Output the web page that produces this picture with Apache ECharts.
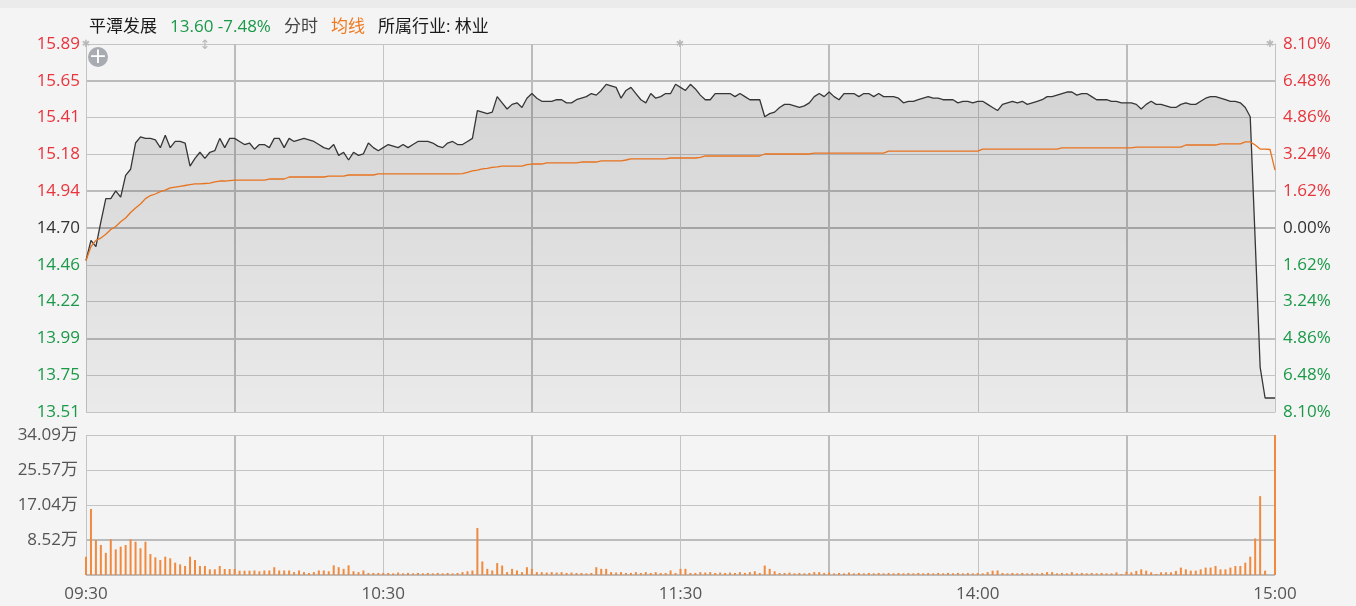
<!DOCTYPE html>
<html><head><meta charset="utf-8">
<script src="https://cdn.jsdelivr.net/npm/echarts@6/dist/echarts.min.js"></script>
<style>html,body{margin:0;padding:0;background:#f4f4f4;}#c{width:1356px;height:606px;}</style>
</head><body><div id="c"></div>
<script>
const preClose = 14.70;
const priceData = [
14.49,14.62,14.58,14.74,14.89,14.89,14.94,14.90,15.04,15.08,
15.25,15.29,15.28,15.28,15.27,15.22,15.30,15.22,15.26,15.26,
15.25,15.10,15.15,15.19,15.15,15.19,15.20,15.28,15.22,15.28,
15.28,15.26,15.24,15.25,15.21,15.24,15.24,15.22,15.28,15.28,
15.22,15.28,15.26,15.27,15.28,15.27,15.26,15.24,15.22,15.21,
15.24,15.17,15.19,15.14,15.19,15.17,15.18,15.25,15.22,15.20,
15.22,15.24,15.23,15.22,15.24,15.22,15.24,15.26,15.26,15.26,
15.25,15.23,15.22,15.25,15.26,15.24,15.24,15.26,15.28,15.46,
15.45,15.44,15.45,15.55,15.51,15.47,15.50,15.51,15.48,15.54,
15.57,15.54,15.52,15.52,15.52,15.53,15.53,15.51,15.51,15.53,
15.54,15.55,15.57,15.56,15.59,15.63,15.62,15.61,15.54,15.59,
15.61,15.57,15.53,15.51,15.57,15.54,15.55,15.57,15.57,15.63,
15.61,15.59,15.63,15.60,15.56,15.53,15.53,15.57,15.57,15.57,
15.57,15.55,15.57,15.55,15.53,15.53,15.53,15.42,15.44,15.45,
15.48,15.50,15.50,15.49,15.48,15.49,15.51,15.55,15.57,15.55,
15.58,15.55,15.53,15.57,15.57,15.57,15.55,15.57,15.57,15.55,
15.57,15.55,15.55,15.55,15.54,15.51,15.52,15.52,15.53,15.54,
15.55,15.54,15.54,15.53,15.53,15.53,15.51,15.52,15.52,15.51,
15.52,15.52,15.50,15.48,15.46,15.50,15.51,15.52,15.51,15.52,
15.50,15.51,15.52,15.53,15.55,15.55,15.56,15.57,15.58,15.58,
15.56,15.57,15.57,15.55,15.53,15.53,15.53,15.52,15.52,15.51,
15.51,15.51,15.50,15.47,15.50,15.52,15.50,15.50,15.49,15.48,
15.48,15.50,15.51,15.50,15.50,15.52,15.54,15.55,15.55,15.54,
15.53,15.52,15.52,15.51,15.48,15.42,14.62,13.80,13.60,13.60,
13.60];
const avgData = [
14.49,14.58,14.62,14.635,14.66,14.69,14.71,14.74,14.765,14.80,
14.83,14.855,14.89,14.91,14.92,14.935,14.945,14.96,14.965,14.97,
14.975,14.98,14.985,14.985,14.988,14.99,14.998,15.004,15.004,15.007,
15.01,15.01,15.01,15.01,15.01,15.01,15.01,15.017,15.017,15.017,
15.017,15.03,15.03,15.03,15.03,15.03,15.03,15.03,15.03,15.036,
15.036,15.036,15.036,15.043,15.043,15.043,15.043,15.043,15.043,15.05,
15.05,15.05,15.05,15.05,15.05,15.05,15.05,15.05,15.05,15.05,
15.05,15.05,15.05,15.05,15.05,15.05,15.052,15.06,15.069,15.075,
15.082,15.086,15.092,15.095,15.101,15.101,15.101,15.101,15.101,15.11,
15.114,15.114,15.114,15.121,15.121,15.121,15.121,15.121,15.121,15.121,
15.127,15.127,15.127,15.127,15.134,15.134,15.134,15.134,15.134,15.14,
15.147,15.147,15.147,15.147,15.147,15.147,15.147,15.147,15.153,15.153,
15.153,15.153,15.153,15.153,15.157,15.166,15.166,15.166,15.166,15.166,
15.166,15.166,15.166,15.166,15.166,15.166,15.166,15.179,15.179,15.179,
15.179,15.179,15.179,15.179,15.179,15.179,15.179,15.185,15.185,15.185,
15.185,15.185,15.185,15.185,15.185,15.185,15.185,15.185,15.185,15.185,
15.185,15.185,15.198,15.198,15.198,15.198,15.198,15.198,15.198,15.198,
15.198,15.198,15.198,15.198,15.198,15.198,15.198,15.198,15.198,15.198,
15.198,15.211,15.211,15.211,15.211,15.211,15.211,15.211,15.211,15.211,
15.211,15.211,15.211,15.211,15.211,15.211,15.211,15.218,15.218,15.218,
15.218,15.218,15.218,15.218,15.218,15.218,15.218,15.218,15.218,15.218,
15.218,15.218,15.224,15.224,15.224,15.224,15.224,15.224,15.224,15.224,
15.224,15.224,15.237,15.237,15.237,15.237,15.237,15.237,15.237,15.244,
15.244,15.244,15.244,15.244,15.257,15.257,15.237,15.211,15.211,15.208,
15.075];
const volData = [
4.46,16.07,8.52,7.3,5.4,8.7,6.25,6.9,7.3,8.7,
8.1,6.5,8.1,5.1,4.3,3.65,4.46,4.06,3.0,2.6,
2.2,4.46,3.65,2.2,2.2,1.38,1.38,2.2,1.46,1.46,
1.46,1.05,1.05,1.05,1.1,0.9,1.1,1.1,1.9,1.1,
1.1,1.1,0.7,1.1,0.7,0.5,0.7,1.1,1.1,0.9,
2.35,1.9,1.5,2.35,0.9,0.7,1.1,0.5,0.5,0.5,
0.5,0.5,0.4,0.6,0.4,0.5,0.4,0.5,0.4,0.5,
0.4,0.5,0.4,0.5,0.4,0.5,0.7,0.9,1.1,11.45,
3.3,1.5,1.1,2.9,2.3,0.7,1.5,1.1,0.7,1.9,
1.5,0.7,0.7,0.6,0.7,0.6,0.7,0.5,0.6,0.5,
0.5,0.4,0.5,1.9,1.5,1.5,0.7,0.6,0.7,0.5,
0.5,0.7,0.5,0.7,0.5,0.7,0.5,0.5,1.1,0.5,
1.5,1.5,0.5,0.5,0.7,0.6,0.7,0.5,0.6,0.5,
0.6,0.5,0.7,0.5,0.7,0.9,0.5,2.3,1.5,0.9,
0.5,0.5,0.6,0.4,0.5,0.4,0.5,0.7,0.7,0.5,
0.6,0.4,0.5,0.4,0.6,0.4,0.5,0.4,0.5,0.4,
0.5,0.4,0.5,0.4,0.5,0.4,0.5,0.4,0.5,0.4,
0.5,0.4,0.5,0.4,0.5,0.4,0.5,0.4,0.5,0.4,
0.5,0.4,0.7,1.05,1.1,0.5,0.4,0.5,0.4,0.5,
0.4,0.5,0.4,0.5,0.7,0.7,0.4,0.5,0.4,0.7,
0.4,0.5,0.4,0.5,0.4,0.5,0.4,0.4,0.65,0.25,
0.8,0.65,1.0,1.38,1.06,0.65,0.25,0.65,0.65,0.65,
1.0,1.8,1.38,1.06,1.06,1.38,1.8,1.8,2.2,1.38,
1.38,1.8,2.2,2.2,3.0,4.46,8.9,19.2,1.06,0,
34.09];
const priceTickLabels = ['13.51','13.75','13.99','14.22','14.46','14.70','14.94','15.18','15.41','15.65','15.89'];
const pctTickLabels = ['8.10%','6.48%','4.86%','3.24%','1.62%','0.00%','1.62%','3.24%','4.86%','6.48%','8.10%'];
const volTickLabels = ['','8.52万','17.04万','25.57万','34.09万'];
const timeLabelsShown = {0:'09:30',60:'10:30',120:'11:30',180:'14:00',240:'15:00'};
const stockName = '平潭发展';
const quoteText = '13.60 -7.48%';
const industryText = '所属行业: 林业';

const times = [];
for (let i = 0; i < priceData.length; i++) {
  const m = i <= 120 ? 570 + i : 780 + (i - 120);
  times.push(String(Math.floor(m/60)).padStart(2,'0') + ':' + String(m%60).padStart(2,'0'));
}
const toBp = p => (p / preClose - 1) * 10000;

const FONT = '"Open Sans", "Noto Sans CJK SC", sans-serif';
const RED = '#e8343c', GREEN = '#1a9948', DARK = '#333333';
const richLab = {
  r: {color: RED, fontSize: 17, fontFamily: FONT},
  g: {color: GREEN, fontSize: 17, fontFamily: FONT},
  k: {color: DARK, fontSize: 17, fontFamily: FONT}
};
const tickIdx = v => Math.round((v + 810) / 162);
const tagFor = i => i > 5 ? 'r' : (i < 5 ? 'g' : 'k');
const T = 'rgba(0,0,0,0)';
const THIN = '#c4c4c4', THICK = '#bcbcbc';
// thick (2px) overlay lines on price grid: ticks 2,5,6,9
const hThick = [T, T, THICK, T, T, '#b4b4b4', THICK, T, T, THICK, T];
const vThick = THICK;

const hiddenCat = (grid) => ({type: 'category', gridIndex: grid, data: times, boundaryGap: false, show: true,
  axisLine: {show: false}, axisTick: {show: false}, axisLabel: {show: false},
  splitLine: {show: true, interval: i => i % 60 === 30, lineStyle: {color: vThick, width: 2}}});

const chart = echarts.init(document.getElementById('c'), null, {renderer: 'canvas'});
chart.setOption({
  animation: false,
  backgroundColor: '#f4f4f4',
  title: {
    left: 84, top: 14,
    text: '{n|' + stockName + '}{p|' + quoteText + '}{t|分时}{o|均线}{n|' + industryText + '}',
    textStyle: {
      rich: {
        n: {color: '#1a1a1a', fontSize: 17, fontWeight: 'normal', fontFamily: FONT, padding: [0, 13, 0, 0]},
        p: {color: GREEN, fontSize: 17, fontWeight: 'normal', fontFamily: FONT, padding: [0, 13, 0, 0]},
        t: {color: '#444', fontSize: 17, fontWeight: 'normal', fontFamily: FONT, padding: [0, 13, 0, 0]},
        o: {color: '#ef7a22', fontSize: 17, fontWeight: 'normal', fontFamily: FONT, padding: [0, 13, 0, 0]}
      }
    }
  },
  graphic: [
    {type: 'rect', shape: {x: 0, y: 0, width: 1356, height: 8}, style: {fill: '#ebebeb'}, z: 100},
    {type: 'circle', shape: {cx: 98, cy: 57, r: 10}, style: {fill: '#a9abb3'}, z: 100},
    {type: 'text', x: 98, y: 57, style: {text: '+', fill: '#fff', fontSize: 22, fontFamily: 'DejaVu Sans', align: 'center', verticalAlign: 'middle'}, z: 101},
    {type: 'text', x: 86, y: 44, style: {text: '✱', fill: '#b8b8b8', fontSize: 10, fontFamily: 'DejaVu Sans', align: 'center', verticalAlign: 'middle'}, z: 101},
    {type: 'text', x: 205, y: 46, style: {text: '↕', fill: '#b8b8b8', fontSize: 13, fontFamily: 'DejaVu Sans', align: 'center', verticalAlign: 'middle'}, z: 101},
    {type: 'text', x: 680, y: 44, style: {text: '✱', fill: '#b8b8b8', fontSize: 10, fontFamily: 'DejaVu Sans', align: 'center', verticalAlign: 'middle'}, z: 101},
    {type: 'text', x: 1270, y: 44, style: {text: '✱', fill: '#b8b8b8', fontSize: 10, fontFamily: 'DejaVu Sans', align: 'center', verticalAlign: 'middle'}, z: 101}
  ],
  grid: [
    {left: 86, top: 44, width: 1189, height: 368},
    {left: 86, top: 435, width: 1189, height: 140}
  ],
  xAxis: [
    {type: 'category', gridIndex: 0, data: times, boundaryGap: false,
     axisLine: {show: false}, axisTick: {show: false}, axisLabel: {show: false},
     splitLine: {show: true, interval: i => i % 30 === 0, lineStyle: {color: THIN, width: 1}}},
    {type: 'category', gridIndex: 1, data: times, boundaryGap: false,
     axisLine: {show: false}, axisTick: {show: false},
     axisLabel: {interval: i => i % 60 === 0, formatter: (v, i) => timeLabelsShown[i] || '', color: '#555', fontSize: 17, fontFamily: FONT, margin: 11},
     splitLine: {show: true, interval: i => i % 30 === 0, lineStyle: {color: THIN, width: 1}}},
    hiddenCat(0),
    hiddenCat(1)
  ],
  yAxis: [
    {type: 'value', gridIndex: 0, min: -810, max: 810, interval: 162, position: 'left',
     axisLine: {show: false}, axisTick: {show: false},
     axisLabel: {margin: 6, formatter: v => { const i = tickIdx(v); return '{' + tagFor(i) + '|' + priceTickLabels[i] + '}'; }, rich: richLab},
     splitLine: {show: true, lineStyle: {color: THIN, width: 1}}},
    {type: 'value', gridIndex: 0, min: -810, max: 810, interval: 162, position: 'right',
     axisLine: {show: true, lineStyle: {color: '#c2c2c2'}}, axisTick: {show: false},
     axisLabel: {margin: 8, formatter: v => { const i = tickIdx(v); return '{' + tagFor(i) + '|' + pctTickLabels[i] + '}'; }, rich: richLab},
     splitLine: {show: true, lineStyle: {color: hThick, width: 2}}},
    {type: 'value', gridIndex: 1, min: 0, max: 34.09, interval: 8.5225,
     axisLine: {show: false}, axisTick: {show: false},
     axisLabel: {margin: 8, color: '#555', fontSize: 17, fontFamily: FONT, formatter: v => volTickLabels[Math.round(v / 8.5225)] || ''},
     splitLine: {show: true, lineStyle: {color: THIN, width: 1}}},
    {type: 'value', gridIndex: 1, min: 0, max: 34.09, interval: 8.5225, position: 'right',
     axisLine: {show: false}, axisTick: {show: false}, axisLabel: {show: false},
     splitLine: {show: true, lineStyle: {color: [THICK, THICK, T, T, T], width: 2}}}
  ],
  series: [
    {type: 'line', name: '价格', xAxisIndex: 0, yAxisIndex: 0, data: priceData.map(toBp),
     symbol: 'none', lineStyle: {color: '#363636', width: 1.3},
     areaStyle: {origin: 'start', color: new echarts.graphic.LinearGradient(0, 0, 0, 1, [
       {offset: 0, color: 'rgba(0,0,0,0.19)'}, {offset: 1, color: 'rgba(0,0,0,0.06)'}])},
     z: 3},
    {type: 'line', name: '均线', xAxisIndex: 0, yAxisIndex: 0, data: avgData.map(toBp),
     symbol: 'none', lineStyle: {color: '#e8731f', width: 1.3}, z: 4},
    {type: 'bar', name: '成交量', xAxisIndex: 1, yAxisIndex: 2, data: volData,
     barWidth: 2, clip: false, itemStyle: {color: '#ef8a3e'}, z: 4}
  ]
});
</script></body></html>
